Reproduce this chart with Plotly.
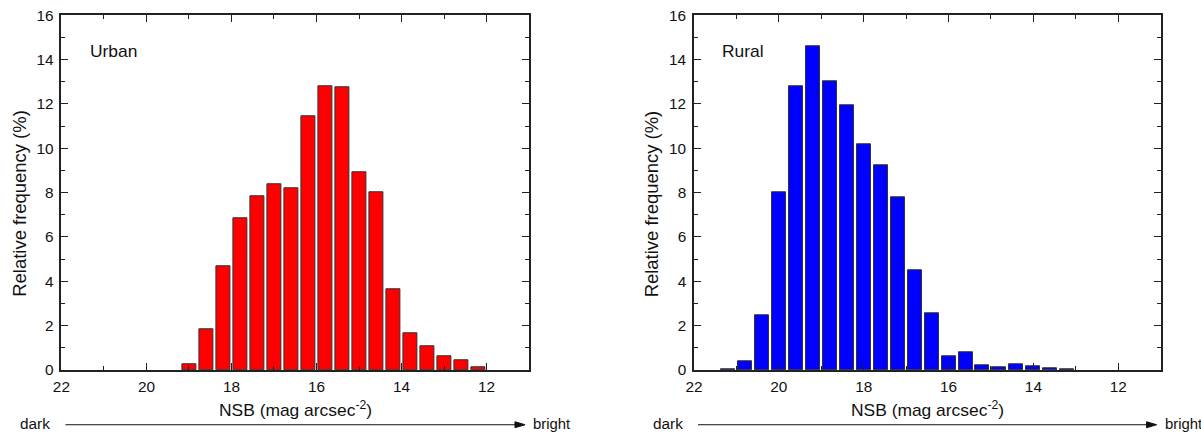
import plotly.graph_objects as go

W, H = 1201, 438
# the page keeps an 8px body margin and the captured page is rescaled to 1201x438;
# figure coordinates are pre-compensated so the final picture lands where intended
OFF = 8
SX = W / (W + 2 * OFF)
SY = H / (H + 2 * OFF)

# ---- data ----
urban_nsb = [19.0, 18.6, 18.2, 17.8, 17.4, 17.0, 16.6, 16.2, 15.8, 15.4,
             15.0, 14.6, 14.2, 13.8, 13.4, 13.0, 12.6, 12.2]
urban_freq = [0.27, 1.84, 4.69, 6.83, 7.85, 8.36, 8.18, 11.45, 12.80, 12.77,
              8.94, 8.03, 3.62, 1.64, 1.08, 0.64, 0.43, 0.13]

rural_nsb = [21.2, 20.8, 20.4, 20.0, 19.6, 19.2, 18.8, 18.4, 18.0, 17.6,
             17.2, 16.8, 16.4, 16.0, 15.6, 15.2, 14.8, 14.4, 14.0, 13.6, 13.2]
rural_freq = [0.04, 0.37, 2.47, 8.03, 12.80, 14.62, 13.03, 11.96, 10.16, 9.22,
              7.79, 4.50, 2.56, 0.63, 0.82, 0.22, 0.13, 0.24, 0.15, 0.09, 0.04]

x_ticks = [22, 20, 18, 16, 14, 12]
y_ticks = [0, 2, 4, 6, 8, 10, 12, 14, 16]

FONT = "Arial, Liberation Sans, sans-serif"
AX = "#222222"
FS = 1.025  # font compensation for the rescale

def fx(P):
    return P / SX - OFF

def fy(P):
    return P / SY - OFF

def px(P):
    return fx(P) / W

def py(P):
    return 1 - fy(P) / H

fig = go.Figure()
fig.add_trace(go.Bar(x=urban_nsb, y=urban_freq, width=0.33,
                     marker=dict(color="#FF0000", line=dict(color="#333333", width=1)),
                     xaxis="x", yaxis="y", showlegend=False))
fig.add_trace(go.Bar(x=rural_nsb, y=rural_freq, width=0.33,
                     marker=dict(color="#0000FF", line=dict(color="#333333", width=1)),
                     xaxis="x2", yaxis="y2", showlegend=False))

ydom = [py(370), py(14)]

common_x = dict(range=[22, 11], autorange=False, tickmode="array", tickvals=x_ticks,
                ticks="inside", ticklen=7, tickwidth=1.2, tickcolor=AX,
                minor=dict(dtick=1, tick0=22, ticks="inside", ticklen=4, tickcolor=AX, tickwidth=1.2),
                showline=True, linecolor=AX, linewidth=1.5, mirror="allticks",
                showgrid=False, zeroline=False, ticklabelstandoff=2,
                ticklabeloverflow="allow",
                tickfont=dict(family=FONT, size=15 * FS, color="#111"))
common_y = dict(range=[0, 16], autorange=False, tickmode="array", tickvals=y_ticks,
                ticks="inside", ticklen=7, tickwidth=1.2, tickcolor=AX,
                minor=dict(dtick=1, tick0=0, ticks="inside", ticklen=4, tickcolor=AX, tickwidth=1.2),
                showline=True, linecolor=AX, linewidth=1.5, mirror="allticks",
                showgrid=False, zeroline=False, ticklabelstandoff=3,
                ticklabeloverflow="allow",
                tickfont=dict(family=FONT, size=15 * FS, color="#111"))

fig.update_layout(
    width=W, height=H, margin=dict(l=0, r=0, t=0, b=0),
    paper_bgcolor="white", plot_bgcolor="white", bargap=0,
    xaxis=dict(domain=[px(60), px(525)], anchor="y", **common_x),
    yaxis=dict(domain=ydom, anchor="x", **common_y),
    xaxis2=dict(domain=[px(689), px(1153)], anchor="y2", **common_x),
    yaxis2=dict(domain=ydom, anchor="x2", **common_y),
    font=dict(family=FONT, color="#111"),
)

ann = []
shapes = []
for (l, r, lab) in [(60, 525, "Urban"), (689, 1153, "Rural")]:
    cx = (l + r) / 2
    ann.append(dict(x=px(cx), y=py(409), xref="paper", yref="paper", showarrow=False,
                    text="NSB (mag arcsec<sup>-2</sup>)", font=dict(size=17 * FS, family=FONT),
                    xanchor="center", yanchor="middle"))
    ann.append(dict(x=px(l - 42), y=py(203), xref="paper", yref="paper", showarrow=False,
                    text="Relative frequency (%)", textangle=-90, font=dict(size=18 * FS, family=FONT),
                    xanchor="center", yanchor="middle"))
    ann.append(dict(x=px(l + 26), y=py(50), xref="paper", yref="paper", showarrow=False,
                    text=lab, font=dict(size=17 * FS, family=FONT), xanchor="left", yanchor="middle"))
    ann.append(dict(x=px(l - 9), y=py(424), xref="paper", yref="paper", showarrow=False,
                    text="dark", font=dict(size=15 * FS, family=FONT), xanchor="right", yanchor="middle"))
    ann.append(dict(x=px(r + 2), y=py(424), xref="paper", yref="paper", showarrow=False,
                    text="bright", font=dict(size=14.5 * FS, family=FONT), xanchor="left", yanchor="middle"))
    x0, x1, yy = l + 4, r - 4, 425
    shapes.append(dict(type="line", xref="paper", yref="paper",
                       x0=px(x0), x1=px(x1 - 6), y0=py(yy), y1=py(yy),
                       line=dict(color="#111", width=1)))
    shapes.append(dict(type="path", xref="paper", yref="paper",
                       path=f"M {px(x1)} {py(yy)} L {px(x1 - 10)} {py(yy - 3)} L {px(x1 - 10)} {py(yy + 3)} Z",
                       fillcolor="#111", line=dict(color="#111", width=1)))

fig.update_layout(annotations=ann, shapes=shapes)
fig.write_html("out.html")
